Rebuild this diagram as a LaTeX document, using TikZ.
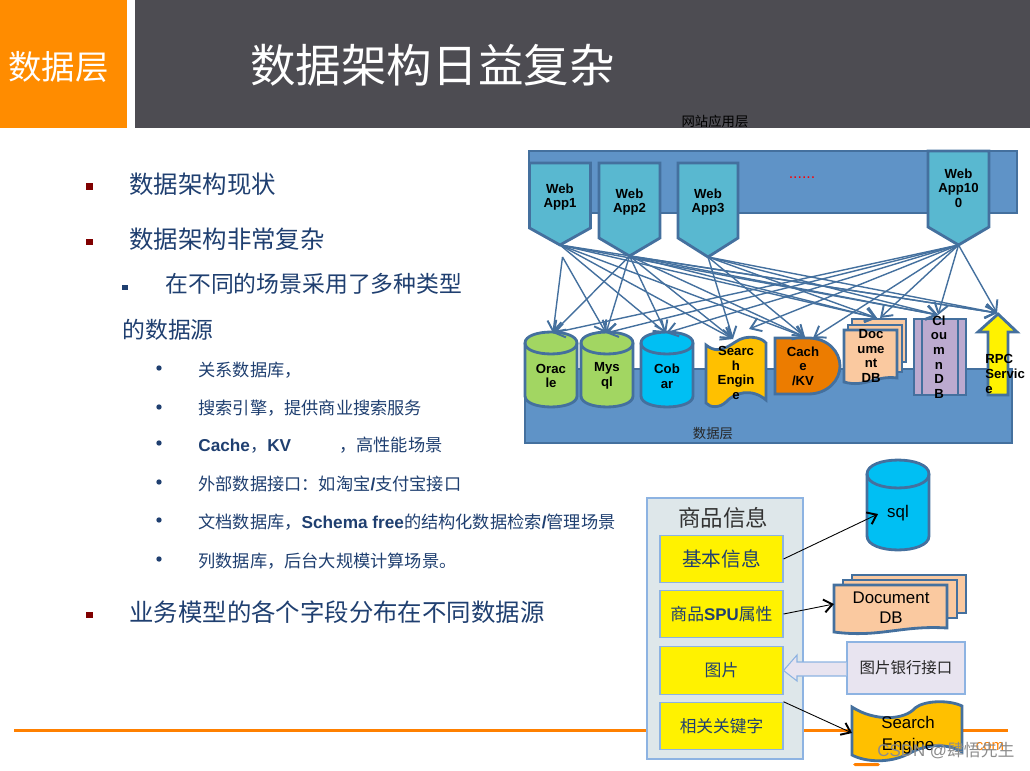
\documentclass[tikz,border=0pt]{standalone}
\usepackage{fontspec}
\setmainfont{Noto Sans CJK SC}
\newfontfamily\latn{Liberation Sans}
\usepackage{xcolor}
\usetikzlibrary{arrows.meta, positioning}
\definecolor{barGray}{HTML}{4D4C52}
\definecolor{barOrange}{HTML}{FF8C00}
\definecolor{bandBlue}{HTML}{5F93C7}
\definecolor{edgeBlue}{HTML}{44709E}
\definecolor{appTeal}{HTML}{59B8D0}
\definecolor{dbGreen}{HTML}{A2D662}
\definecolor{dbCyan}{HTML}{00BFF3}
\definecolor{seAmber}{HTML}{FFC000}
\definecolor{cacheOrange}{HTML}{EC7C00}
\definecolor{docPeach}{HTML}{FAC9A0}
\definecolor{colPurple}{HTML}{BCAACF}
\definecolor{textNavy}{HTML}{1F3F70}
\definecolor{panelGray}{HTML}{DEE7EA}
\definecolor{panelEdge}{HTML}{8DB3E2}
\definecolor{bankLilac}{HTML}{E8E4F0}
\tikzset{
    part/.style={draw=edgeBlue, line width=1.6pt, line join=miter},
    flow/.style={draw=edgeBlue, line width=0.8pt, -{Straight Barb[length=2mm, width=2.8mm, line width=1.1pt]}},
    feed/.style={draw=black, line width=0.5pt, -{Straight Barb[length=1.7mm, width=2.6mm, line width=1.1pt]}},
    partText/.style={font=\latn\bfseries\fontsize{7.5pt}{8.3pt}\selectfont, align=center, inner sep=0pt, text=black},
    headOne/.style={anchor=west, inner sep=0pt, text=textNavy, font=\fontsize{13.9pt}{16pt}\selectfont},
    headTwo/.style={anchor=west, inner sep=0pt, text=textNavy, font=\fontsize{13pt}{15pt}\selectfont},
    headThree/.style={anchor=west, inner sep=0pt, text=textNavy, font=\fontsize{9.8pt}{11pt}\selectfont},
    fieldBox/.style={draw=panelEdge, line width=0.6pt, fill=yellow, minimum width=2.46cm, minimum height=0.95cm, inner sep=0pt, text=textNavy}
}
% x1, x2, top centre, bottom centre, y radius, fill
\newcommand{\drawCyl}[6]{
    \draw[part, fill=#6] (#1,#3) -- (#1,#4) .. controls (#1,{#4+1.33*#5}) and (#2,{#4+1.33*#5}) .. (#2,#4) -- (#2,#3)
        .. controls (#2,{#3-1.33*#5}) and (#1,{#3-1.33*#5}) .. (#1,#3) -- cycle;
    \draw[part] (#1,#3) .. controls (#1,{#3+1.33*#5}) and (#2,{#3+1.33*#5}) .. (#2,#3);
}
% x1, x2, y top, y shoulder, y tip
\newcommand{\drawApp}[5]{
    \draw[part, fill=appTeal] (#1,#3) -- (#2,#3) -- (#2,#4) -- ({(#1+#2)/2},#5) -- (#1,#4) -- cycle;
}
% x1, x2, y top, y bottom
\newcommand{\drawDoc}[4]{
    \draw[part, fill=docPeach] (#1,#3) -- (#2,#3) -- (#2,{#4-4}) .. controls ({#1+0.6*(#2-#1)},{#4-7}) and ({#1+0.4*(#2-#1)},{#4+6}) .. (#1,#4) -- cycle;
}
\begin{document}
\begin{tikzpicture}[x=0.02cm, y=-0.02cm]
    \useasboundingbox (0,0) rectangle (1030,770);
    % --- top bars ---
    \fill[barOrange] (0,0) rectangle (127,128);
    \fill[barGray] (135,0) rectangle (1030,128);
    \node[text=white, font=\fontsize{19pt}{22pt}\selectfont, inner sep=0pt] (layerTitle) at (58.5,67) {数据层};
    \node[text=white, font=\fontsize{25.9pt}{30pt}\selectfont, inner sep=0pt] (mainTitle) at (432.5,65) {数据架构日益复杂};
    % --- left text ---
    \fill[red!50!black] (86,183.5) rectangle (93,190);
    \fill[red!50!black] (86,238.5) rectangle (93,245);
    \fill[red!50!black] (86,611.5) rectangle (93,618);
    \fill[textNavy] (122,284.5) rectangle (127.5,290);
    \foreach \dotY in {368,407,443,482,520,559}
        \fill[textNavy] (159,\dotY) circle [radius=2.7];
    \node[headOne] (statusLine) at (129,184) {数据架构现状};
    \node[headOne] (complexLine) at (129,239) {数据架构非常复杂};
    \node[headTwo] (sceneLine) at (165,284) {在不同的场景采用了多种类型};
    \node[headTwo] (sourceLine) at (122,330) {的数据源};
    \node[headThree] (relLine) at (198,370) {关系数据库，};
    \node[headThree] (searchLine) at (198,408) {搜索引擎，提供商业搜索服务};
    \node[headThree] (cacheLine) at (198,445) {{\latn\bfseries Cache}，{\latn\bfseries KV}\hspace{27.4pt}，高性能场景};
    \node[headThree] (apiLine) at (198,484) {外部数据接口：如淘宝{\latn\bfseries /}支付宝接口};
    \node[headThree] (docLine) at (198,522) {文档数据库，{\latn\bfseries Schema free}的结构化数据检索{\latn\bfseries /}管理场景};
    \node[headThree] (colLine) at (198,561) {列数据库，后台大规模计算场景。};
    \node[headOne] (modelLine) at (129,612) {业务模型的各个字段分布在不同数据源};
    % --- orange rule ---
    \fill[orange] (14,728.5) rectangle (1008,731.5);
    \fill[orange, rounded corners=1pt] (853,763) rectangle (880,766);
    % --- layer bands ---
    \node[font=\fontsize{7.6pt}{9pt}\selectfont, inner sep=0pt, text=black] (webLayer) at (715,121) {网站应用层};
    \draw[part, fill=bandBlue] (529,151) rectangle (1017,213);
    \draw[part, fill=bandBlue] (525,369) rectangle (1012,443);
    \node[text=red, font=\latn\fontsize{9pt}{10pt}\selectfont, inner sep=0pt] (dotsLabel) at (802,178) {......};
    \node[font=\fontsize{7.6pt}{9pt}\selectfont, inner sep=0pt, text=black!85] (dataLayer) at (713,433) {数据层};
    % --- web apps ---
    \drawApp{529.5}{590.5}{163}{228}{245}
    \drawApp{599}{660}{163}{238}{256}
    \drawApp{678}{738}{163}{238}{257}
    \drawApp{928}{989}{151}{227}{245}
    \coordinate (app1Tip) at (560,245);
    \coordinate (app1Low) at (562.5,257);
    \coordinate (app2Tip) at (629.5,256);
    \coordinate (app3Tip) at (708,257);
    \coordinate (app100Tip) at (958.5,245);
    % --- stores ---
    \drawCyl{525}{577}{343}{396}{11}{dbGreen}
    \drawCyl{581}{633}{343}{396}{11}{dbGreen}
    \drawCyl{641}{693}{343}{396}{11}{dbCyan}
    \draw[part, fill=seAmber] (706,345) .. controls (722,358) and (733,340) .. (744,338) .. controls (752,336) and (762,338) .. (766,343)
        -- (766,400) .. controls (752,388) and (735,392) .. (726,402) .. controls (720,408) and (710,408) .. (706,403) -- cycle;
    \draw[part, fill=cacheOrange] (775,338) -- (808,338) .. controls (828,338) and (840,352) .. (840,366) .. controls (840,380) and (828,394) .. (808,394) -- (775,394) -- cycle;
    \draw[part, fill=docPeach] (852,319) rectangle (906,362);
    \draw[part, fill=docPeach] (848,325) rectangle (902,372);
    \drawDoc{844}{897}{330}{382}
    \draw[part, fill=colPurple] (914,319) rectangle (966,395);
    \draw[part] (922,319) -- (922,395);
    \draw[part] (958,319) -- (958,395);
    \draw[part, fill=yellow] (998,314) -- (1017,332) -- (1008,332) -- (1008,395) -- (988,395) -- (988,332) -- (978,332) -- cycle;
    \coordinate (oracleTop) at (553,333);
    \coordinate (mysqlTop) at (606,333);
    \coordinate (cobarTop) at (666,333);
    \coordinate (searchTop) at (733,339);
    \coordinate (searchSide) at (749,329);
    \coordinate (cacheTop) at (805,337);
    \coordinate (cacheSide) at (813,338);
    \coordinate (docTop) at (877,318);
    \coordinate (docSide) at (880,318);
    \coordinate (colTop) at (938,315);
    \coordinate (rpcTop) at (997,313);
    % --- connectors ---
    \draw[flow] (app1Low) -- (oracleTop);
    \draw[flow] (app1Low) -- (mysqlTop);
    \draw[flow] (app1Tip) -- (cobarTop);
    \draw[flow] (app1Tip) -- (searchTop);
    \draw[flow] (app1Tip) -- (cacheTop);
    \draw[flow] (app1Tip) -- (docTop);
    \draw[flow] (app1Tip) -- (colTop);
    \draw[flow] (app1Tip) -- (rpcTop);
    \draw[flow] (app2Tip) -- (oracleTop);
    \draw[flow] (app2Tip) -- (mysqlTop);
    \draw[flow] (app2Tip) -- (cobarTop);
    \draw[flow] (app2Tip) -- (searchTop);
    \draw[flow] (app2Tip) -- (cacheTop);
    \draw[flow] (app2Tip) -- (docTop);
    \draw[flow] (app2Tip) -- (colTop);
    \draw[flow] (app2Tip) -- (rpcTop);
    \draw[flow] (app3Tip) -- (searchTop);
    \draw[flow] (app3Tip) -- (cacheTop);
    \draw[flow] (app3Tip) -- (docTop);
    \draw[flow] (app3Tip) -- (colTop);
    \draw[flow] (app3Tip) -- (rpcTop);
    \draw[flow] (app100Tip) -- (oracleTop);
    \draw[flow] (app100Tip) -- (mysqlTop);
    \draw[flow] (app100Tip) -- (cobarTop);
    \draw[flow] (app100Tip) -- (searchSide);
    \draw[flow] (app100Tip) -- (cacheSide);
    \draw[flow] (app100Tip) -- (docSide);
    \draw[flow] (app100Tip) -- (colTop);
    \draw[flow] (app100Tip) -- (rpcTop);
    % --- labels of the upper diagram ---
    \node[partText] (app1Label) at (560,197) {Web\\App1};
    \node[partText] (app2Label) at (629.5,202) {Web\\App2};
    \node[partText] (app3Label) at (708,202) {Web\\App3};
    \node[partText] (app100Label) at (958.5,188) {Web\\App10\\0};
    \node[partText] (oracleLabel) at (551,376) {Orac\\le};
    \node[partText] (mysqlLabel) at (607,376) {Mys\\ql};
    \node[partText] (cobarLabel) at (667,376) {Cob\\ar};
    \node[partText] (searchLabel) at (736,373) {Searc\\h\\Engin\\e};
    \node[partText] (cacheLabel) at (803,366) {Cach\\e\\/KV};
    \node[partText] (docLabel) at (871,356) {Doc\\ume\\nt\\DB};
    \node[partText] (colLabel) at (939,357) {Cl\\ou\\m\\n\\D\\B};
    \node[partText, align=left, anchor=west] (rpcLabel) at (985,374) {RPC\\Servic\\e};
    % --- goods panel ---
    \draw[draw=panelEdge, line width=0.6pt, fill=panelGray] (647,498) rectangle (803,759);
    \node[font=\fontsize{12.8pt}{15pt}\selectfont, inner sep=0pt, text=black!80] (goodsTitle) at (723,518) {商品信息};
    \node[fieldBox, font=\fontsize{11.2pt}{13pt}\selectfont] (baseBox) at (721.5,559) {基本信息};
    \node[fieldBox, font=\fontsize{9.6pt}{11pt}\selectfont] (spuBox) at (721.5,614) {商品{\latn\bfseries SPU}属性};
    \node[fieldBox, font=\fontsize{9.6pt}{11pt}\selectfont] (picBox) at (721.5,670.5) {图片};
    \node[fieldBox, font=\fontsize{9.5pt}{11pt}\selectfont] (keyBox) at (721.5,726) {相关关键字};
    % --- goods stores ---
    \drawCyl{867}{929}{474}{536}{14}{dbCyan}
    \draw[part, fill=docPeach] (852,575) rectangle (966,613);
    \draw[part, fill=docPeach] (843,580) rectangle (957,618);
    \drawDoc{834}{947}{585}{632}
    \draw[part, fill=seAmber] (852,707) .. controls (875,722) and (905,720) .. (915,708) .. controls (925,700) and (950,700) .. (962,706)
        -- (962,752) .. controls (945,742) and (925,745) .. (910,753) .. controls (890,764) and (865,762) .. (852,755) -- cycle;
    \node[inner sep=0pt, text=black, font=\latn\fontsize{9.6pt}{14pt}\selectfont] (sqlLabel) at (898,513) {sql};
    \node[inner sep=0pt, align=center, text=black, font=\latn\fontsize{9.6pt}{11.4pt}\selectfont] (docBigLabel) at (891,608) {Document\\DB};
    \node[inner sep=0pt, align=center, text=black, font=\latn\fontsize{9.6pt}{12.6pt}\selectfont] (seBigLabel) at (908,735) {Search\\Engine};
    \coordinate (sqlEnd) at (878,514);
    \coordinate (docEnd) at (834,604);
    \coordinate (seEnd) at (852,733);
    \draw[feed] (baseBox.east) -- (sqlEnd);
    \draw[feed] (spuBox.east) -- (docEnd);
    \draw[feed] (keyBox.north east) -- (seEnd);
    % --- picture bank ---
    \node[draw=panelEdge, line width=0.6pt, fill=bankLilac, minimum width=2.36cm, minimum height=1.04cm, inner sep=0pt, text=black!85, font=\fontsize{8.8pt}{11pt}\selectfont] (bankBox) at (906,668) {图片银行接口};
    \draw[draw=panelEdge, line width=0.6pt, fill=bankLilac] (bankBox.west |- 0,662) -- (797,662) -- (797,655) -- (picBox.east) -- (797,681) -- (797,676) -- (bankBox.west |- 0,676);
    % --- logo and watermark ---
    \node[text=orange, inner sep=0pt, font=\latn\fontsize{8.5pt}{10pt}\selectfont] (logoText) at (990,747) {com};
    \node[text=black!45, inner sep=0pt, font=\fontsize{9.6pt}{11pt}\selectfont] (markText) at (946,751) {{\latn CSDN @}肆悟先生};
\end{tikzpicture}
\end{document}
